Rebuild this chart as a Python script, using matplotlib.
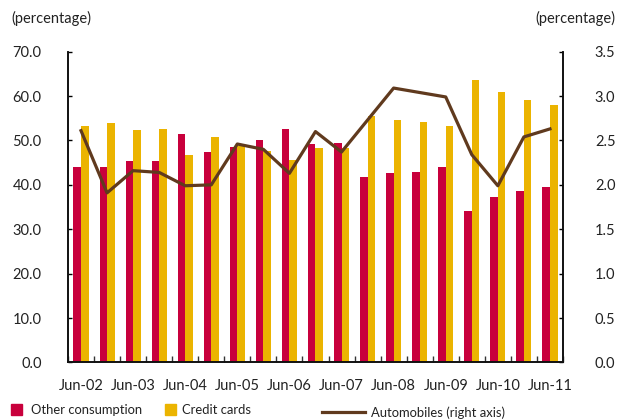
#!/usr/bin/env python3

import matplotlib
matplotlib.use('Agg')
import matplotlib.pyplot as plt
from matplotlib.patches import Patch
from matplotlib.lines import Line2D
import numpy as np

plt.rcParams['font.family'] = ['Lato', 'DejaVu Sans']

# semiannual periods, Jun-02 ... Jun-11
periods = []
for yr in range(2, 12):
  periods.append(f'Jun-{yr:02d}')
  if yr < 11:
    periods.append(f'Dec-{yr:02d}')

other_consumption = [44.1, 44.1, 45.4, 45.4, 51.5, 47.3, 48.6, 50.0, 52.5, 49.2,
                     49.4, 41.8, 42.6, 43.0, 44.0, 34.2, 37.2, 38.6, 39.5]
credit_cards = [53.3, 53.9, 52.4, 52.6, 46.7, 50.8, 48.8, 47.7, 45.6, 48.4,
                48.4, 55.6, 54.5, 54.1, 53.3, 63.6, 60.9, 59.1, 58.0]
automobiles = [2.61, 1.91, 2.16, 2.14, 1.99, 2.00, 2.46, 2.40, 2.13, 2.60,
               2.37, 2.73, 3.09, 3.04, 2.99, 2.34, 1.99, 2.54, 2.63]

RED = '#C8003C'
GOLD = '#EBB400'
BROWN = '#603A1E'
TXT = '#222222'
FS = 10.5
LFS = 9.4

x = np.arange(len(periods))
bw = 0.29

fig = plt.figure(figsize=(6.22, 4.2), dpi=100)
ax = fig.add_axes([0.1093, 0.137, 0.7958, 0.740])
ax2 = ax.twinx()

ax.bar(x - bw/2, other_consumption, bw, color=RED, zorder=2)
ax.bar(x + bw/2, credit_cards, bw, color=GOLD, zorder=2)
ax2.plot(x, automobiles, color=BROWN, lw=2.3, zorder=3)

ax.set_xlim(-0.5, len(periods) - 0.5)
ax.set_ylim(0, 70)
ax2.set_ylim(0, 3.5)

ax.set_yticks(np.arange(0, 71, 10))
ax.set_yticklabels([f'{v:.1f}' for v in np.arange(0, 71, 10)])
ax2.set_yticks(np.arange(0, 3.51, 0.5))
ax2.set_yticklabels([f'{v:.1f}' for v in np.arange(0, 3.51, 0.5)])

# ticks at group boundaries, labels at June groups
ax.set_xticks(np.arange(-0.5, len(periods), 1))
ax.set_xticklabels([])
jun = [i for i, p in enumerate(periods) if p.startswith('Jun')]
ax.set_xticks(jun, minor=True)
ax.set_xticklabels([periods[i] for i in jun], minor=True)

ax.tick_params(axis='x', which='major', direction='in', length=4, width=1, color='#333333')
ax.tick_params(axis='x', which='minor', length=0, pad=12, labelsize=FS, labelcolor=TXT)
ax.tick_params(axis='y', direction='in', length=3, width=1, pad=19, labelsize=FS, labelcolor=TXT)
ax2.tick_params(axis='y', direction='in', length=3, width=1, pad=23, labelsize=FS, labelcolor=TXT)

for a in (ax, ax2):
  a.spines['top'].set_visible(False)
  for s in ('left', 'right', 'bottom'):
    a.spines[s].set_linewidth(1.2)
    a.spines[s].set_color('#111111')

fig.text(0.019, 0.957, '(percentage)', fontsize=FS, color=TXT, va='center')
fig.text(0.99, 0.957, '(percentage)', fontsize=FS, color=TXT, va='center', ha='right')

# legend, three separate entries placed along the bottom
leg_kw = dict(frameon=False, fontsize=LFS, borderpad=0, borderaxespad=0, loc='center left',
              labelcolor=TXT)
l1 = fig.legend([Patch(color=RED)], ['Other consumption'], bbox_to_anchor=(0.018, 0.024),
                handlelength=0.85, handleheight=1.0, handletextpad=0.65, **leg_kw)
l2 = fig.legend([Patch(color=GOLD)], ['Credit cards'], bbox_to_anchor=(0.265, 0.024),
                handlelength=0.85, handleheight=1.0, handletextpad=0.5, **leg_kw)
l3 = fig.legend([Line2D([], [], color=BROWN, lw=2.3)], ['Automobiles (right axis)'],
                bbox_to_anchor=(0.517, 0.018), handlelength=3.3, handletextpad=0.45, **leg_kw)

fig.savefig('out.png', dpi=100)
